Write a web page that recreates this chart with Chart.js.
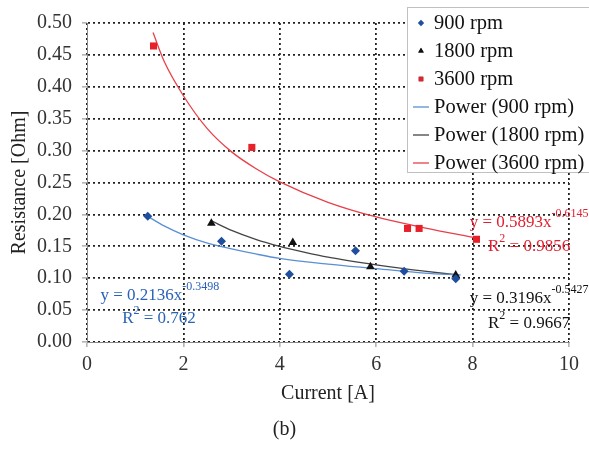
<!DOCTYPE html>
<html>
<head>
<meta charset="utf-8">
<script src="https://cdn.jsdelivr.net/npm/chart.js@4/dist/chart.umd.min.js"></script>
<style>
  html, body { margin: 0; padding: 0; background: #fff; }
  #wrap { width: 589px; height: 450px; }
</style>
</head>
<body>
<div id="wrap"><canvas id="chart" width="589" height="450"></canvas></div>
<script>
// measured points (Current [A], Resistance [Ohm])
const x900 = [1.26, 2.79, 4.20, 5.57, 6.58, 7.65];
const y900 = [0.197, 0.158, 0.106, 0.143, 0.111, 0.099];
const x1800 = [2.58, 4.27, 5.88, 7.65];
const y1800 = [0.186, 0.156, 0.118, 0.105];
const x3600 = [1.38, 3.42, 6.65, 6.89, 8.08];
const y3600 = [0.464, 0.305, 0.178, 0.178, 0.161];

// trend curves
const xFit900 = [1.26, 1.6, 2, 2.5, 3, 3.5, 4, 5, 6, 7, 7.75];
const yFit900 = [0.197, 0.182, 0.168, 0.155, 0.146, 0.138, 0.131, 0.122, 0.115, 0.108, 0.105];
const xFit1800 = [2.58, 3, 3.5, 4, 4.5, 5, 6, 7, 7.7];
const yFit1800 = [0.190, 0.175, 0.161, 0.150, 0.141, 0.133, 0.121, 0.111, 0.105];
const xFit3600 = [1.37, 1.6, 2, 2.5, 3, 3.5, 4, 5, 6, 7, 8.08];
const yFit3600 = [0.485, 0.440, 0.386, 0.334, 0.298, 0.272, 0.251, 0.219, 0.196, 0.179, 0.163];

const seriesNames = ['900 rpm', '1800 rpm', '3600 rpm'];
const fitCoef = ['0.2136', '0.3196', '0.5893'];
const fitExp = ['-0.3498', '-0.5427', '-0.6145'];
const fitR2 = ['0.762', '0.9667', '0.9856'];

const SERIF = '"Liberation Serif", "DejaVu Serif", serif';
const pts = (xs, ys) => xs.map((x, i) => ({x: x, y: ys[i]}));

const markerColors = ['#1f4e9e', '#111111', '#e8202a'];
const lineColors = ['#5a8fd6', '#444444', '#e8404a'];
const textColors = ['#2a62b8', '#111111', '#e02030'];
const styles = ['rectRot', 'triangle', 'rect'];

const datasets = [];
[[x900, y900], [x1800, y1800], [x3600, y3600]].forEach((d, i) => {
    datasets.push({
        label: seriesNames[i],
        data: pts(d[0], d[1]),
        showLine: false,
        pointStyle: styles[i],
        pointRadius: i === 0 ? 4.5 : 5,
        backgroundColor: markerColors[i],
        borderColor: markerColors[i],
        borderWidth: 0,
        order: 0
    });
});
[[xFit900, yFit900], [xFit1800, yFit1800], [xFit3600, yFit3600]].forEach((d, i) => {
    datasets.push({
        label: 'Power (' + seriesNames[i] + ')',
        data: pts(d[0], d[1]),
        showLine: true,
        pointRadius: 0,
        borderColor: lineColors[i],
        borderWidth: 1.3,
        cubicInterpolationMode: 'monotone',
        fill: false,
        order: 1
    });
});

// where each trend equation sits (data coordinates)
const labelSpots = [
    {eq: [0.28, 0.0655], r2: [0.73, 0.029]},
    {eq: [7.94, 0.061], r2: [8.32, 0.0215]},
    {eq: [7.94, 0.181], r2: [8.32, 0.142]}
];

const extras = {
    id: 'extras',
    afterDatasetsDraw(chart) {
        const ctx = chart.ctx;
        const xs = chart.scales.x, ys = chart.scales.y;
        ctx.save();
        ctx.textBaseline = 'alphabetic';
        ctx.textAlign = 'left';
        labelSpots.forEach((s, i) => {
            ctx.fillStyle = textColors[i];
            let px = xs.getPixelForValue(s.eq[0]);
            let py = ys.getPixelForValue(s.eq[1]);
            ctx.font = '17px ' + SERIF;
            const main = 'y = ' + fitCoef[i] + 'x';
            ctx.fillText(main, px, py);
            const w = ctx.measureText(main).width;
            ctx.font = '12px ' + SERIF;
            ctx.fillText(fitExp[i], px + w, py - 10);

            px = xs.getPixelForValue(s.r2[0]);
            py = ys.getPixelForValue(s.r2[1]);
            ctx.font = '17px ' + SERIF;
            ctx.fillText('R', px, py);
            const wr = ctx.measureText('R').width;
            ctx.font = '12px ' + SERIF;
            ctx.fillText('2', px + wr, py - 9);
            const w2 = ctx.measureText('2').width;
            ctx.font = '17px ' + SERIF;
            ctx.fillText(' = ' + fitR2[i], px + wr + w2, py);
        });
        ctx.restore();
    },
    afterDraw(chart) {
        // legend box in the top right corner
        const ctx = chart.ctx;
        const left = 407, top = 7, bottom = 172, rowH = 28;
        ctx.save();
        ctx.fillStyle = '#ffffff';
        ctx.fillRect(left, top, chart.width - left + 5, bottom - top);
        ctx.strokeStyle = '#c0c0c0';
        ctx.lineWidth = 1;
        ctx.strokeRect(left + 0.5, top + 0.5, chart.width - left + 5, bottom - top);
        ctx.font = '20.5px ' + SERIF;
        ctx.textBaseline = 'middle';
        ctx.textAlign = 'left';
        chart.data.datasets.forEach((ds, i) => {
            const cy = top + 16 + i * rowH;
            if (ds.showLine) {
                ctx.strokeStyle = ds.borderColor;
                ctx.lineWidth = 1.3;
                ctx.beginPath();
                ctx.moveTo(413, cy);
                ctx.lineTo(429, cy);
                ctx.stroke();
            } else {
                Chart.helpers.drawPoint(ctx, {
                    pointStyle: ds.pointStyle,
                    radius: 3.2,
                    borderWidth: 0,
                    rotation: 0
                }, 421, cy);
                ctx.fillStyle = ds.backgroundColor;
                ctx.fill();
            }
            ctx.fillStyle = '#111';
            ctx.fillText(ds.label, 434, cy + 1);
        });
        ctx.restore();
    }
};

const gridStyle = {
    color: '#222222',
    lineWidth: 1.8,
    tickColor: '#888888',
    tickLength: 5,
    tickWidth: 1
};

new Chart(document.getElementById('chart').getContext('2d'), {
    type: 'scatter',
    data: { datasets: datasets },
    plugins: [extras],
    options: {
        responsive: false,
        animation: false,
        devicePixelRatio: 1,
        layout: { padding: { top: 23, right: 20, left: 0, bottom: 0 } },
        scales: {
            x: {
                type: 'linear',
                min: 0, max: 10,
                ticks: { stepSize: 2, color: '#333', padding: 6, font: { family: SERIF, size: 20 } },
                grid: gridStyle,
                border: { display: true, color: '#888', width: 1, dash: [2, 3] },
                title: { display: true, text: 'Current [A]', color: '#222', font: { family: SERIF, size: 20 }, padding: { top: 0, bottom: 6 } },
                afterFit(scale) { scale.height = 70; }
            },
            y: {
                type: 'linear',
                min: 0, max: 0.5,
                ticks: {
                    stepSize: 0.05, color: '#333', padding: 10,
                    font: { family: SERIF, size: 20 },
                    callback: v => v.toFixed(2)
                },
                grid: gridStyle,
                border: { display: true, color: '#888', width: 1, dash: [2, 3] },
                title: { display: true, text: 'Resistance [Ohm]', color: '#222', font: { family: SERIF, size: 20 }, padding: { top: 8, bottom: 0 } },
                afterFit(scale) { scale.width = 87; }
            }
        },
        plugins: {
            legend: { display: false },
            tooltip: { enabled: false },
            title: {
                display: true,
                position: 'bottom',
                text: '(b)',
                color: '#222',
                font: { family: SERIF, size: 20, weight: 'normal' },
                padding: { top: 6, bottom: 8 }
            }
        }
    }
});
</script>
</body>
</html>
